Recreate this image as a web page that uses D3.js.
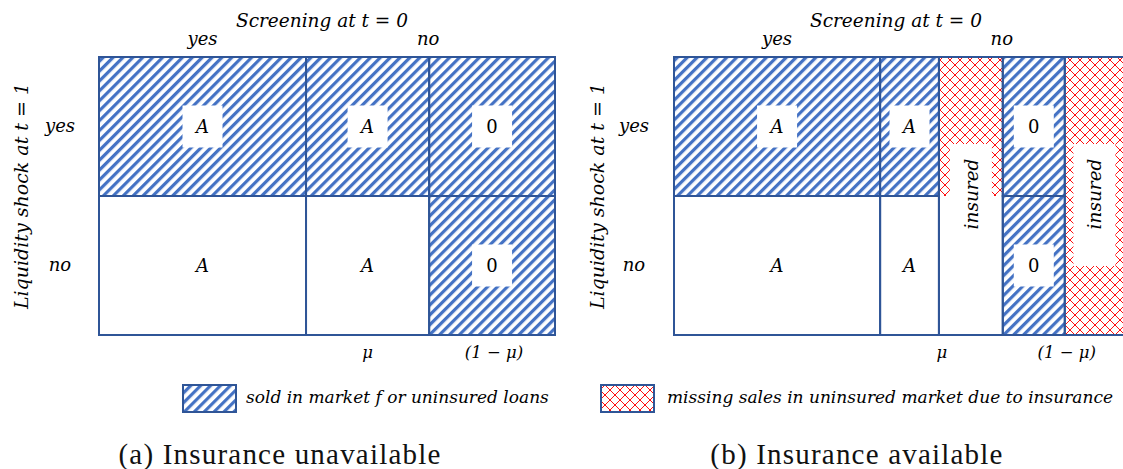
<!DOCTYPE html>
<html><head><meta charset="utf-8">
<script src="https://cdn.jsdelivr.net/npm/d3@7"></script>
<style>body{margin:0;background:#fff} svg{display:block}</style>
</head><body>
<svg id="c" width="1123" height="469"></svg>
<script>
// ---------- data ----------
const rowCategories = ["yes", "no"];
const screeningLabels = ["yes", "no"];
const xAxisLabels = ["\u03bc", "(1 \u2212 \u03bc)"];
const panelA_colShares = [0.454, 0.270, 0.276];
const panelB_colShares = [0.452, 0.129, 0.140, 0.136, 0.130];
// cells: col index, row span [r0,r1], fill kind, label, boxed label, stroked
const panelA_cells = [
  {col:0, r0:0, r1:1, fill:"sold", label:"A", box:true,  stroke:true},
  {col:1, r0:0, r1:1, fill:"sold", label:"A", box:true,  stroke:true},
  {col:2, r0:0, r1:1, fill:"sold", label:"0", box:true,  stroke:true},
  {col:0, r0:1, r1:2, fill:"none", label:"A", box:false, stroke:true},
  {col:1, r0:1, r1:2, fill:"none", label:"A", box:false, stroke:true},
  {col:2, r0:1, r1:2, fill:"sold", label:"0", box:true,  stroke:true}
];
const panelB_cells = [
  {col:0, r0:0, r1:1, fill:"sold",    label:"A", box:true,  stroke:true},
  {col:1, r0:0, r1:1, fill:"sold",    label:"A", box:true,  stroke:true},
  {col:2, r0:0, r1:1, fill:"missing", label:"",  box:false, stroke:false},
  {col:3, r0:0, r1:1, fill:"sold",    label:"0", box:true,  stroke:true},
  {col:4, r0:0, r1:2, fill:"missing", label:"",  box:false, stroke:true},
  {col:0, r0:1, r1:2, fill:"none",    label:"A", box:false, stroke:true},
  {col:1, r0:1, r1:2, fill:"none",    label:"A", box:false, stroke:true},
  {col:2, r0:1, r1:2, fill:"none",    label:"",  box:false, stroke:false},
  {col:2, r0:0, r1:2, fill:"none",    label:"",  box:false, stroke:true},
  {col:3, r0:1, r1:2, fill:"sold",    label:"0", box:true,  stroke:true}
];
const panelB_insured = [{col:2, text:"insured"}, {col:4, text:"insured"}];
const legendItems = [
  {kind:"sold", text:"sold in market f or uninsured loans"},
  {kind:"missing", text:"missing sales in uninsured market due to insurance"}
];
const captions = ["(a) Insurance unavailable", "(b) Insurance available"];
const titleTop = "Screening at t = 0";
const titleLeft = "Liquidity shock at t = 1";

// ---------- style ----------
const BORDER = "#2F5597", HATCH = "#4472C4", RED = "#FF1010";
const MATH = "'DejaVu Serif', serif";
const CAP = "'Liberation Serif', 'Times New Roman', serif";

const svg = d3.select("#c");
const defs = svg.append("defs");
const ph = defs.append("pattern").attr("id","sold").attr("patternUnits","userSpaceOnUse")
  .attr("width",7).attr("height",7).attr("patternTransform","rotate(45)");
ph.append("rect").attr("width",7).attr("height",7).attr("fill","#fff");
ph.append("rect").attr("width",3.2).attr("height",7).attr("fill",HATCH);
const pr = defs.append("pattern").attr("id","missing").attr("patternUnits","userSpaceOnUse")
  .attr("width",10).attr("height",10);
pr.append("rect").attr("width",10).attr("height",10).attr("fill","#fff");
pr.append("path").attr("d","M0,0L10,10M10,0L0,10").attr("stroke",RED).attr("stroke-width",1);
const fillOf = k => k === "none" ? "#fff" : `url(#${k})`;

function panel(x0, colShares, cells, opts) {
  const edges = [0];
  colShares.forEach(s => edges.push(edges[edges.length-1] + s));
  const x = d3.scaleLinear().domain([0, 1]).range([x0, x0 + 456]);
  const y = d3.scaleLinear().domain([0, 2]).range([57, 335]);
  const rowBand = d3.scaleBand().domain(rowCategories).range([57, 335]);
  const g = svg.append("g");
  const cx = c => (x(edges[c]) + x(edges[c+1])) / 2;

  g.selectAll("rect.fill").data(cells.filter(d => d.fill !== "none")).join("rect")
    .attr("x", d => x(edges[d.col])).attr("y", d => y(d.r0))
    .attr("width", d => x(edges[d.col+1]) - x(edges[d.col])).attr("height", d => y(d.r1) - y(d.r0))
    .attr("fill", d => fillOf(d.fill));
  g.selectAll("rect.st").data(cells.filter(d => d.stroke)).join("rect")
    .attr("x", d => x(edges[d.col])).attr("y", d => y(d.r0))
    .attr("width", d => x(edges[d.col+1]) - x(edges[d.col])).attr("height", d => y(d.r1) - y(d.r0))
    .attr("fill", "none").attr("stroke", BORDER).attr("stroke-width", 2);

  // insured labels
  (opts.insured || []).forEach(d => {
    const xc = cx(d.col), yc = y(1) + 10;
    g.append("rect").attr("x", xc - 21).attr("y", yc - 62).attr("width", 42).attr("height", 122).attr("fill", "#fff");
    g.append("text").attr("transform", `translate(${xc + 7},${y(1) - 2}) rotate(-90)`)
      .attr("text-anchor","middle").attr("font-family", MATH).attr("font-style","italic")
      .attr("font-size", 18.5).text(d.text);
  });

  const lab = g.selectAll("g.lab").data(cells.filter(d => d.label)).join("g")
    .attr("transform", d => `translate(${cx(d.col)},${(y(d.r0)+y(d.r1))/2})`);
  lab.filter(d => d.box).append("rect").attr("x",-20).attr("y",-21).attr("width",40).attr("height",42).attr("fill","#fff");
  lab.append("text").attr("text-anchor","middle").attr("dy","0.35em")
    .attr("font-family", MATH).attr("font-style", d => d.label === "0" ? "normal" : "italic")
    .attr("font-size", 18).text(d => d.label);

  // titles
  const tf = s => s.attr("font-family", MATH).attr("font-style","italic");
  tf(svg.append("text")).attr("x", opts.titleX).attr("y", 27).attr("text-anchor","middle").attr("font-size", 18.5).text(titleTop);
  tf(svg.append("text")).attr("x", cx(0)).attr("y", 45).attr("text-anchor","middle").attr("font-size", 18).text(screeningLabels[0]);
  tf(svg.append("text")).attr("x", x(edges[opts.noCol]) - 1).attr("y", 45).attr("text-anchor","middle").attr("font-size", 18).text(screeningLabels[1]);
  tf(svg.append("text")).attr("transform", `translate(${opts.leftX},196) rotate(-90)`).attr("text-anchor","middle").attr("font-size", 19).text(titleLeft);
  rowCategories.forEach(r => {
    tf(svg.append("text")).attr("x", opts.rowX).attr("y", rowBand(r) + rowBand.bandwidth()/2).attr("dy","0.3em")
      .attr("text-anchor","middle").attr("font-size", 18).text(r);
  });
  tf(svg.append("text")).attr("x", opts.muX(x, edges, cx)).attr("y", 358).attr("text-anchor","middle").attr("font-size", 16.5).text(xAxisLabels[0]);
  tf(svg.append("text")).attr("x", opts.omX(x, edges, cx)).attr("y", 358).attr("text-anchor","middle").attr("font-size", 16.5).text(xAxisLabels[1]);
}

panel(99, panelA_colShares, panelA_cells, {
  titleX: 322, noCol: 2, leftX: 28, rowX: 60,
  muX: (x, e, cx) => cx(1), omX: (x, e, cx) => cx(2) + 2
});
panel(674, panelB_colShares, panelB_cells, {
  insured: panelB_insured,
  titleX: 896, noCol: 3, leftX: 604, rowX: 634,
  muX: (x, e, cx) => x(e[2]) + 3, omX: (x, e, cx) => x(e[4]) + 2
});

// legend
const legX = [183, 601], txtX = [246, 667];
legendItems.forEach((d, i) => {
  svg.append("rect").attr("x", legX[i]).attr("y", 385).attr("width", 53).attr("height", 27)
    .attr("fill", fillOf(d.kind)).attr("stroke", BORDER).attr("stroke-width", 2);
  svg.append("text").attr("x", txtX[i]).attr("y", 403).attr("font-family", MATH).attr("font-style","italic")
    .attr("font-size", 17).text(d.text);
});
// captions
const capX = [280, 857];
captions.forEach((c, i) => {
  svg.append("text").attr("x", capX[i]).attr("y", 464).attr("text-anchor","middle")
    .attr("font-family", CAP).attr("font-size", 29).attr("letter-spacing", 1.2).attr("fill","#111").text(c);
});
</script>
</body></html>
